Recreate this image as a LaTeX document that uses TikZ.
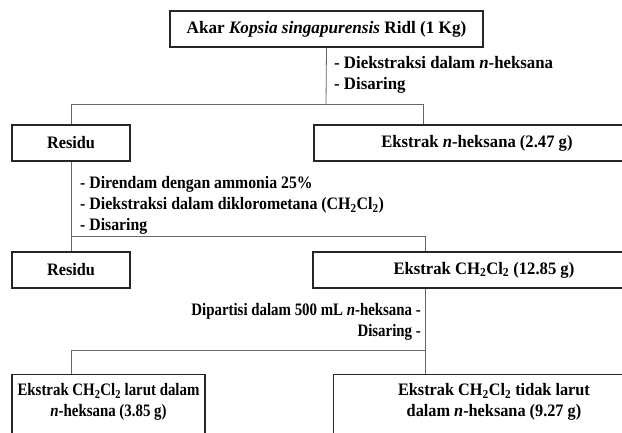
\documentclass[tikz,border=0pt]{standalone}
\usepackage{fontspec}
\usepackage{graphicx}
\setmainfont{Liberation Serif}
\newcommand{\hx}[2]{\scalebox{#1}[1]{#2}}
\newcommand{\chcl}{CH\textsubscript{2}Cl\textsubscript{2}}
\begin{document}
\begin{tikzpicture}[x=1pt,y=-1pt,
  font=\fontsize{17.5}{21}\selectfont\bfseries,
  box/.style={draw=black!85, line width=1.2pt, inner sep=0pt, minimum height=36pt},
  conn/.style={draw=black!60, line width=0.8pt},
  note/.style={inner sep=0pt, anchor=base west},
  rnote/.style={inner sep=0pt, anchor=base east}]
\useasboundingbox (0,0) rectangle (622,433);
% boxes
\node[box, minimum width=313pt] (top) at (326.5,29) {\hx{0.98}{Akar \textit{Kopsia singapurensis} Ridl (1 Kg)}};
\node[box, minimum width=118pt] (res1) at (71,143) {\hx{0.93}{Residu}};
\node[box, minimum width=326pt] (ek1) at (477,143) {\hx{0.95}{Ekstrak \textit{n}-heksana (2.47 g)}};
\node[box, minimum width=118pt] (res2) at (71,270) {\hx{0.93}{Residu}};
\node[box, minimum width=342pt] (ek2) at (484,270) {\hx{0.95}{Ekstrak \chcl{} (12.85 g)}};
\node[box, anchor=north, minimum width=193pt, minimum height=70pt] (bl) at (108.5,374) {};
\node[align=center, inner sep=0pt] (blt) at (108.5,402) {\hx{0.85}{Ekstrak \chcl{} larut dalam}\\\hx{0.85}{\textit{n}-heksana (3.85 g)}};
\node[box, anchor=north west, minimum width=330pt, minimum height=70pt] (br) at (333,374) {};
\node[align=center, inner sep=0pt] (brt) at (494,402) {\hx{0.93}{Ekstrak \chcl{} tidak larut}\\\hx{0.93}{dalam \textit{n}-heksana (9.27 g)}};
% junctions
\coordinate (j1) at (326,104);
\coordinate (j1l) at (71,104);
\coordinate (j1r) at (423,104);
\coordinate (j2l) at (71,236);
\coordinate (j2r) at (425,236);
\coordinate (j3l) at (71,350);
\coordinate (j3r) at (425,350);
% connectors
\draw[conn] (top.south) -- (j1);
\draw[conn] (res1.north) -- (j1l) -- (j1r) -- (j1r |- ek1.north);
\draw[conn] (res1.south) -- (res2.north);
\draw[conn] (j2l) -- (j2r) -- (j2r |- ek2.north);
\draw[conn] (j2r |- ek2.south) -- (j3r) -- (j3l) -- (j3l |- bl.north);
\draw[conn] (j3r) -- (j3r |- br.north);
% notes
\node[note] (n1) at (334,69) {\hx{0.96}{- Diekstraksi dalam \textit{n}-heksana}};
\node[note] (n2) at (334,90) {\hx{0.96}{- Disaring}};
\node[note] (n3) at (80,189) {\hx{0.9}{- Direndam dengan ammonia 25\%}};
\node[note] (n4) at (80,210) {\hx{0.91}{- Diekstraksi dalam diklorometana (\chcl)}};
\node[note] (n5) at (80,231) {\hx{0.9}{- Disaring}};
\node[rnote] (n6) at (421,316) {\hx{0.85}{Dipartisi dalam 500 mL \textit{n}-heksana -}};
\node[rnote] (n7) at (421,337) {\hx{0.85}{Disaring -}};
\end{tikzpicture}
\end{document}
